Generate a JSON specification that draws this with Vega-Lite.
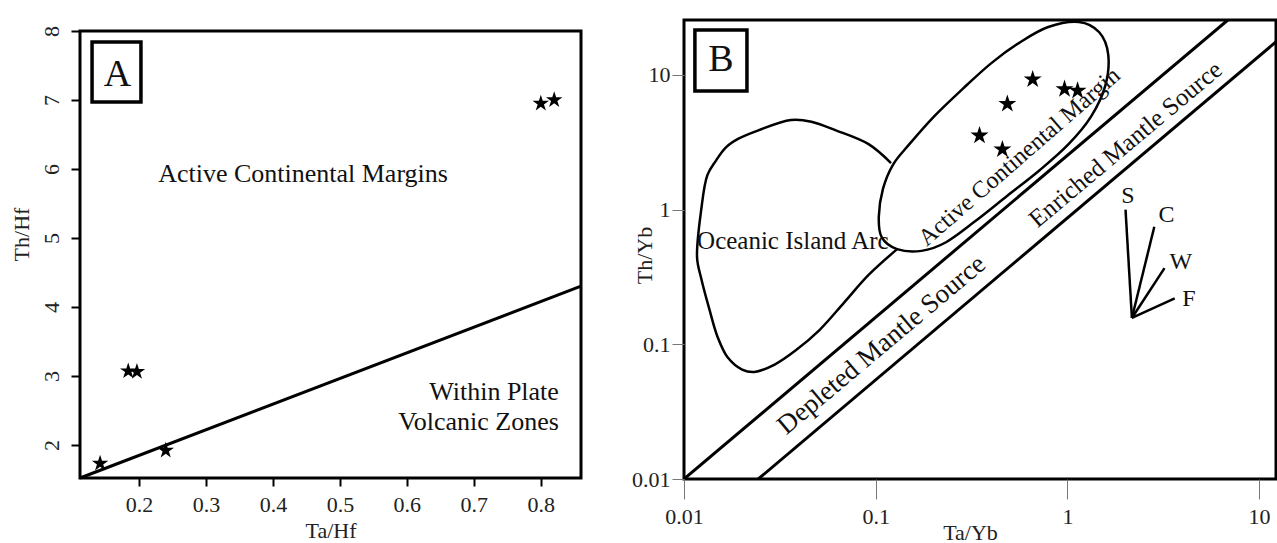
{
  "$schema": "https://vega.github.io/schema/vega-lite/v6.json",
  "background": "white",
  "padding": {"left": 10, "top": 15, "right": 0, "bottom": 0},
  "spacing": 47,
  "config": {
    "view": {"stroke": "black", "strokeWidth": 3},
    "font": "Liberation Serif",
    "axis": {"grid": false, "domain": false, "labelFont": "Liberation Serif", "titleFont": "Liberation Serif", "labelColor": "#222", "titleColor": "#222", "titleFontWeight": "normal", "labelFlush": false}
  },
  "datasets": {
    "frameA": [{"x": 0.112, "x2": 0.86, "y": 1.52, "y2": 8}],
    "starsA": [
      {"x": 0.80, "y": 6.95}, {"x": 0.82, "y": 7.0}, {"x": 0.184, "y": 3.07},
      {"x": 0.197, "y": 3.06}, {"x": 0.142, "y": 1.73}, {"x": 0.24, "y": 1.92}
    ],
    "lineA": [{"x": 0.112, "y": 1.52, "x2": 0.86, "y2": 4.30}],
    "boxA": [{"x": 0.13, "x2": 0.203, "y": 7.84, "y2": 6.97}],
    "letterA": [{"x": 0.168, "y": 7.36, "label": "A"}],
    "labelAcm": [{"x": 0.445, "y": 5.93, "label": "Active Continental Margins"}],
    "labelWp": [{"x": 0.827, "y": 2.77, "label": "Within Plate\nVolcanic Zones"}],
    "starsB": [
      {"x": 0.659, "y": 9.27}, {"x": 0.966, "y": 7.86}, {"x": 1.13, "y": 7.64},
      {"x": 0.486, "y": 6.1}, {"x": 0.348, "y": 3.55}, {"x": 0.458, "y": 2.8}
    ],
    "mantle": [
      {"x": 0.01, "y": 0.01, "x2": 6.87, "y2": 25.6},
      {"x": 0.0244, "y": 0.01, "x2": 16.7, "y2": 25.6}
    ],
    "blob": [
      {"i": 1, "x": 0.1293, "y": 0.509}, {"i": 2, "x": 0.0918, "y": 0.3275},
      {"i": 3, "x": 0.0684, "y": 0.2042}, {"i": 4, "x": 0.0509, "y": 0.1277},
      {"i": 5, "x": 0.0380, "y": 0.0896}, {"i": 6, "x": 0.0297, "y": 0.0708},
      {"i": 7, "x": 0.0233, "y": 0.0623}, {"i": 8, "x": 0.0201, "y": 0.0649},
      {"i": 9, "x": 0.01692, "y": 0.0797}, {"i": 10, "x": 0.01497, "y": 0.1135},
      {"i": 11, "x": 0.01357, "y": 0.1816}, {"i": 12, "x": 0.0123, "y": 0.3084},
      {"i": 13, "x": 0.0117, "y": 0.4395}, {"i": 14, "x": 0.0123, "y": 1.0},
      {"i": 15, "x": 0.01324, "y": 1.803}, {"i": 16, "x": 0.0146, "y": 2.284},
      {"i": 17, "x": 0.0165, "y": 2.891}, {"i": 18, "x": 0.01913, "y": 3.35},
      {"i": 19, "x": 0.02443, "y": 3.88}, {"i": 20, "x": 0.03614, "y": 4.63},
      {"i": 21, "x": 0.0462, "y": 4.5}, {"i": 22, "x": 0.062, "y": 3.88},
      {"i": 23, "x": 0.0918, "y": 3.064}, {"i": 24, "x": 0.1202, "y": 2.218}
    ],
    "ellipse": [
      {"i": 1, "x": 1.147, "y": 24.77}, {"i": 2, "x": 1.466, "y": 20.75},
      {"i": 3, "x": 1.633, "y": 14.16}, {"i": 4, "x": 1.577, "y": 8.34},
      {"i": 5, "x": 1.328, "y": 4.91}, {"i": 6, "x": 1.014, "y": 3.064},
      {"i": 7, "x": 0.719, "y": 1.971}, {"i": 8, "x": 0.486, "y": 1.268},
      {"i": 9, "x": 0.3284, "y": 0.815}, {"i": 10, "x": 0.2328, "y": 0.573},
      {"i": 11, "x": 0.1735, "y": 0.4943}, {"i": 12, "x": 0.1293, "y": 0.509},
      {"i": 13, "x": 0.1074, "y": 0.625}, {"i": 14, "x": 0.1038, "y": 0.89},
      {"i": 15, "x": 0.1091, "y": 1.425}, {"i": 16, "x": 0.123, "y": 2.154},
      {"i": 17, "x": 0.1499, "y": 3.064}, {"i": 18, "x": 0.2012, "y": 4.91},
      {"i": 19, "x": 0.2834, "y": 7.85}, {"i": 20, "x": 0.3996, "y": 12.2},
      {"i": 21, "x": 0.563, "y": 17.4}, {"i": 22, "x": 0.794, "y": 22.7}
    ],
    "vectors": [
      {"vec": "S", "x": 2.17, "y": 0.157, "x2": 2.01, "y2": 1.0},
      {"vec": "C", "x": 2.17, "y": 0.157, "x2": 2.84, "y2": 0.746},
      {"vec": "W", "x": 2.17, "y": 0.157, "x2": 3.21, "y2": 0.368},
      {"vec": "F", "x": 2.17, "y": 0.157, "x2": 3.63, "y2": 0.219}
    ],
    "vecLabels": [
      {"x": 2.07, "y": 1.27, "label": "S"}, {"x": 3.29, "y": 0.916, "label": "C"},
      {"x": 3.91, "y": 0.409, "label": "W"}, {"x": 4.3, "y": 0.217, "label": "F"}
    ],
    "labelOia": [{"x": 0.0117, "y": 0.59, "label": "Oceanic  Island Arc"}],
    "labelAcmB": [{"x": 0.563, "y": 2.46, "label": "Active  Continental Margin"}],
    "labelDepleted": [{"x": 0.1074, "y": 0.099, "label": "Depleted Mantle Source"}],
    "labelEnriched": [{"x": 2.01, "y": 3.06, "label": "Enriched Mantle Source"}],
    "boxB": [{"x": 0.0114, "x2": 0.0213, "y": 21.6, "y2": 7.6}],
    "letterB": [{"x": 0.0156, "y": 12.9, "label": "B"}]
  },
  "hconcat": [
    {
      "width": 501,
      "height": 458,
      "view": {"stroke": null},
      "encoding": {
        "x": {
          "field": "x", "type": "quantitative",
          "scale": {"domain": [0.112, 0.86], "nice": false, "zero": false},
          "axis": {"title": "Ta/Hf", "values": [0.2, 0.3, 0.4, 0.5, 0.6, 0.7, 0.8], "format": ".1f", "tickSize": 8, "tickWidth": 2, "tickColor": "black", "labelFontSize": 22, "labelPadding": 8, "titleFontSize": 22, "titleY": 52, "titleBaseline": "middle"}
        },
        "y": {
          "field": "y", "type": "quantitative",
          "scale": {"domain": [1.52, 8.159], "nice": false, "zero": false},
          "axis": {"title": "Th/Hf", "values": [2, 3, 4, 5, 6, 7, 8], "format": "d", "labelAngle": -90, "tickSize": 9, "tickWidth": 2, "tickColor": "black", "labelFontSize": 22, "labelPadding": 8, "titleFontSize": 22, "titleX": -59, "titleY": 214, "titleBaseline": "middle"}
        }
      },
      "layer": [
        {
          "data": {"name": "frameA"},
          "mark": {"type": "rect", "fill": null, "fillOpacity": 0, "stroke": "black", "strokeWidth": 3},
          "encoding": {"x2": {"field": "x2"}, "y2": {"field": "y2"}}
        },
        {
          "data": {"name": "lineA"},
          "mark": {"type": "rule", "color": "black", "strokeWidth": 3},
          "encoding": {"x2": {"field": "x2"}, "y2": {"field": "y2"}}
        },
        {
          "data": {"name": "starsA"},
          "mark": {"type": "point", "shape": "M0,-1L0.225,-0.309L0.951,-0.309L0.363,0.118L0.588,0.809L0,0.382L-0.588,0.809L-0.363,0.118L-0.951,-0.309L-0.225,-0.309Z", "filled": true, "color": "black", "opacity": 1, "size": 300}
        },
        {
          "data": {"name": "labelAcm"},
          "mark": {"type": "text", "fontSize": 26, "color": "#111", "align": "center", "baseline": "middle"},
          "encoding": {"text": {"field": "label"}}
        },
        {
          "data": {"name": "labelWp"},
          "mark": {"type": "text", "fontSize": 26, "color": "#111", "align": "right", "baseline": "middle", "lineBreak": "\n", "lineHeight": 30},
          "encoding": {"text": {"field": "label"}}
        },
        {
          "data": {"name": "boxA"},
          "mark": {"type": "rect", "fill": null, "fillOpacity": 0, "stroke": "black", "strokeWidth": 3.5},
          "encoding": {"x2": {"field": "x2"}, "y2": {"field": "y2"}}
        },
        {
          "data": {"name": "letterA"},
          "mark": {"type": "text", "fontSize": 38, "color": "#111", "align": "center", "baseline": "middle"},
          "encoding": {"text": {"field": "label"}}
        }
      ]
    },
    {
      "width": 592,
      "height": 459,
      "encoding": {
        "x": {
          "field": "x", "type": "quantitative",
          "scale": {"type": "log", "domain": [0.01, 12.25], "nice": false},
          "axis": {"title": "Ta/Yb", "values": [0.01, 0.1, 1, 10], "format": "~g", "tickSize": 20, "tickWidth": 1, "tickColor": "#777", "labelFontSize": 22, "labelPadding": 7, "titleFontSize": 22, "titleX": 286, "titleY": 53, "titleBaseline": "middle"}
        },
        "y": {
          "field": "y", "type": "quantitative",
          "scale": {"type": "log", "domain": [0.01, 25.6], "nice": false},
          "axis": {"title": "Th/Yb", "values": [0.01, 0.1, 1, 10], "format": "~g", "tickSize": 12, "tickWidth": 1, "tickColor": "#777", "labelFontSize": 22, "labelPadding": 2, "titleFontSize": 22, "titleX": -40, "titleY": 235, "titleBaseline": "middle"}
        }
      },
      "layer": [
        {
          "data": {"name": "mantle"},
          "mark": {"type": "rule", "color": "black", "strokeWidth": 3, "clip": true},
          "encoding": {"x2": {"field": "x2"}, "y2": {"field": "y2"}}
        },
        {
          "data": {"name": "blob"},
          "mark": {"type": "line", "color": "black", "strokeWidth": 2.5, "interpolate": "catmull-rom"},
          "encoding": {"order": {"field": "i", "type": "quantitative"}}
        },
        {
          "data": {"name": "ellipse"},
          "mark": {"type": "line", "color": "black", "strokeWidth": 2.5, "interpolate": "cardinal-closed"},
          "encoding": {"order": {"field": "i", "type": "quantitative"}}
        },
        {
          "data": {"name": "starsB"},
          "mark": {"type": "point", "shape": "M0,-1L0.225,-0.309L0.951,-0.309L0.363,0.118L0.588,0.809L0,0.382L-0.588,0.809L-0.363,0.118L-0.951,-0.309L-0.225,-0.309Z", "filled": true, "color": "black", "opacity": 1, "size": 360}
        },
        {
          "data": {"name": "vectors"},
          "mark": {"type": "rule", "color": "black", "strokeWidth": 2.5},
          "encoding": {"x2": {"field": "x2"}, "y2": {"field": "y2"}}
        },
        {
          "data": {"name": "vecLabels"},
          "mark": {"type": "text", "fontSize": 24, "color": "#111", "align": "center", "baseline": "middle"},
          "encoding": {"text": {"field": "label"}}
        },
        {
          "data": {"name": "labelOia"},
          "mark": {"type": "text", "fontSize": 25, "color": "#111", "align": "left", "baseline": "middle"},
          "encoding": {"text": {"field": "label"}}
        },
        {
          "data": {"name": "labelAcmB"},
          "mark": {"type": "text", "fontSize": 24, "color": "#111", "align": "center", "baseline": "middle", "angle": -41},
          "encoding": {"text": {"field": "label"}}
        },
        {
          "data": {"name": "labelDepleted"},
          "mark": {"type": "text", "fontSize": 27, "color": "#111", "align": "center", "baseline": "middle", "angle": -40},
          "encoding": {"text": {"field": "label"}}
        },
        {
          "data": {"name": "labelEnriched"},
          "mark": {"type": "text", "fontSize": 25, "color": "#111", "align": "center", "baseline": "middle", "angle": -40},
          "encoding": {"text": {"field": "label"}}
        },
        {
          "data": {"name": "boxB"},
          "mark": {"type": "rect", "fill": null, "fillOpacity": 0, "stroke": "black", "strokeWidth": 3.5},
          "encoding": {"x2": {"field": "x2"}, "y2": {"field": "y2"}}
        },
        {
          "data": {"name": "letterB"},
          "mark": {"type": "text", "fontSize": 38, "color": "#111", "align": "center", "baseline": "middle"},
          "encoding": {"text": {"field": "label"}}
        }
      ]
    }
  ]
}
